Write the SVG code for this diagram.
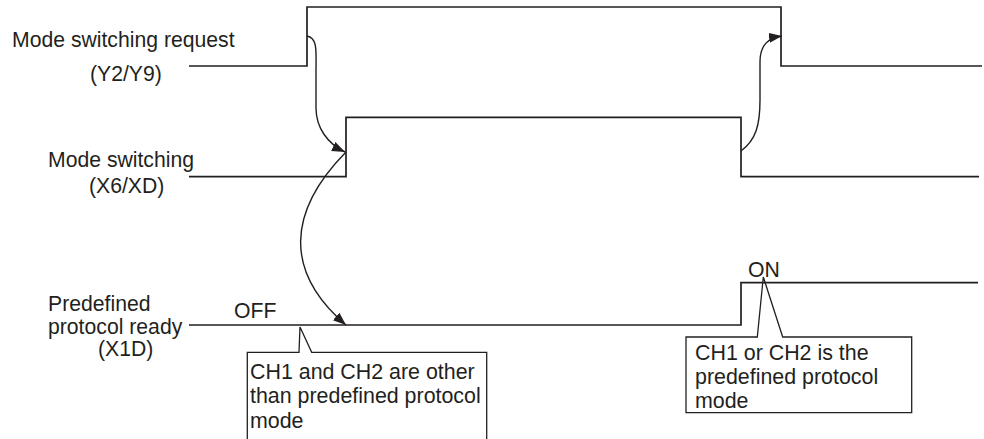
<svg xmlns="http://www.w3.org/2000/svg" width="984" height="439" viewBox="0 0 984 439">
<style>
text{font-family:"Liberation Sans",Arial,sans-serif;font-size:21.2px;fill:#231f20}
text.k{font-size:21.4px}
.w{fill:none;stroke:#231f20;stroke-width:1.7}
.c{fill:none;stroke:#231f20;stroke-width:1.3}
.a{fill:none;stroke:#231f20;stroke-width:1.4}
</style>
<defs>
<marker id="ah" markerUnits="userSpaceOnUse" markerWidth="14" markerHeight="12" refX="13" refY="5" orient="auto">
<path d="M0,0 L13,5 L0,10 Z" fill="#231f20"/>
</marker>
</defs>
<rect width="984" height="439" fill="#fff"/>
<g id="sig-request">
<text x="12" y="46.5">Mode switching request</text>
<text x="90" y="81">(Y2/Y9)</text>
<path class="w" d="M189,66 L307,66 L307,7 L781,7 L781,66 L982,66"/>
</g>
<g id="sig-mode">
<text x="48" y="166.5">Mode switching</text>
<text x="89" y="193">(X6/XD)</text>
<path class="w" d="M189,176.7 L346,176.7 L346,117.3 L741,117.3 L741,176.7 L979,176.7"/>
</g>
<g id="sig-ready">
<text x="48" y="310.5">Predefined</text>
<text x="48" y="333.5">protocol ready</text>
<text x="98" y="355.5">(X1D)</text>
<text x="234" y="317.5">OFF</text>
<text x="748" y="276.5">ON</text>
<path class="w" d="M189,325 L741,325 L741,282.7 L978,282.7"/>
</g>
<g id="callout-off">
<path class="c" d="M247.3,439 L247.3,352.3 L299,352.3 L300,327 L311.7,352.3 L486.7,352.3 L486.7,439"/>
<text class="k" x="250" y="378.5">CH1 and CH2 are other</text>
<text class="k" x="250" y="403">than predefined protocol</text>
<text class="k" x="250" y="427.5">mode</text>
</g>
<g id="callout-on">
<path class="c" d="M686,337 L757.3,337 L763.3,277 L782.7,337 L911.7,337 L911.7,412.7 L686,412.7 Z"/>
<text class="k" x="695" y="359.5">CH1 or CH2 is the</text>
<text class="k" x="695" y="383.5">predefined protocol</text>
<text class="k" x="695" y="407.5">mode</text>
</g>
<g id="connectors">
<path class="a" marker-end="url(#ah)" d="M307,36 C318,38 316,52 316,72 L316,108 C316,128 328,144 345,152"/>
<path class="a" marker-end="url(#ah)" d="M346,152 C287,212 284,272 346,325"/>
<path class="a" marker-end="url(#ah)" d="M741,151 C756,140 760,125 760,100 L760,62 C760,45 768,38 782,36"/>
</g>
</svg>
